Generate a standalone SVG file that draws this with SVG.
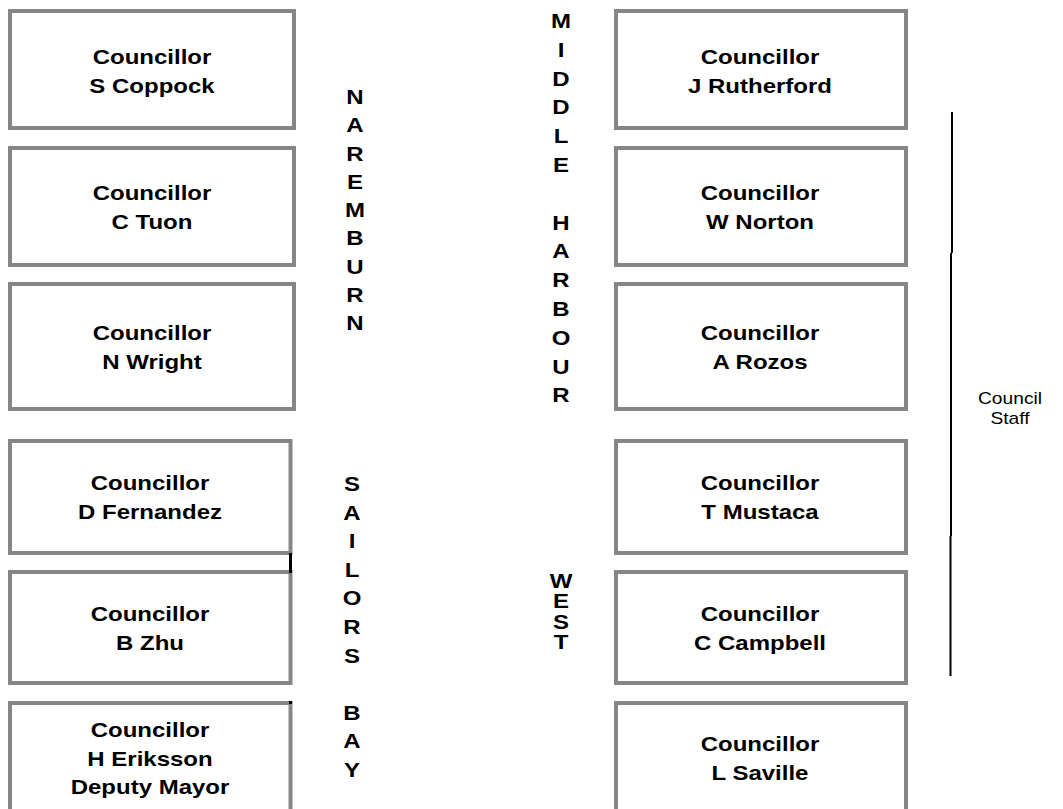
<svg xmlns="http://www.w3.org/2000/svg" width="1063" height="809" viewBox="0 0 1063 809">
<style>
.box{fill:#fff;stroke:#868686;stroke-width:4}
.t{font-family:"Liberation Sans",Arial,Helvetica,sans-serif;font-weight:bold;font-size:20px;text-anchor:middle;fill:#000}
.s{font-family:"Liberation Sans",Arial,Helvetica,sans-serif;font-size:16px;text-anchor:middle;fill:#000}
.bar{stroke:#000;stroke-width:2;fill:none}
</style>
<rect width="1063" height="809" fill="#fff"/>
<g id="n-coppock"><rect class="box" x="10" y="11" width="284" height="117"/><text class="t" transform="matrix(1.2 0 0 1 152 0)"><tspan x="0" y="64">Councillor</tspan><tspan x="0" y="93">S Coppock</tspan></text></g>
<g id="n-tuon"><rect class="box" x="10" y="148" width="284" height="117"/><text class="t" transform="matrix(1.2 0 0 1 152 0)"><tspan x="0" y="200">Councillor</tspan><tspan x="0" y="229">C Tuon</tspan></text></g>
<g id="n-wright"><rect class="box" x="10" y="284" width="284" height="125"/><text class="t" transform="matrix(1.2 0 0 1 152 0)"><tspan x="0" y="340">Councillor</tspan><tspan x="0" y="369">N Wright</tspan></text></g>
<g id="n-fernandez"><rect class="box" x="10" y="441" width="280.5" height="112"/><text class="t" transform="matrix(1.2 0 0 1 150 0)"><tspan x="0" y="490">Councillor</tspan><tspan x="0" y="519">D Fernandez</tspan></text></g>
<g id="n-zhu"><rect class="box" x="10" y="572" width="280.5" height="111"/><text class="t" transform="matrix(1.2 0 0 1 150 0)"><tspan x="0" y="621">Councillor</tspan><tspan x="0" y="650">B Zhu</tspan></text></g>
<g id="n-eriksson"><rect class="box" x="10" y="703" width="280.5" height="120"/><text class="t" transform="matrix(1.2 0 0 1 150 0)"><tspan x="0" y="737">Councillor</tspan><tspan x="0" y="766">H Eriksson</tspan><tspan x="0" y="794.5">Deputy Mayor</tspan></text></g>
<g id="n-rutherford"><rect class="box" x="616" y="11" width="290" height="117"/><text class="t" transform="matrix(1.2 0 0 1 760 0)"><tspan x="0" y="64">Councillor</tspan><tspan x="0" y="93">J Rutherford</tspan></text></g>
<g id="n-norton"><rect class="box" x="616" y="148" width="290" height="117"/><text class="t" transform="matrix(1.2 0 0 1 760 0)"><tspan x="0" y="200">Councillor</tspan><tspan x="0" y="229">W Norton</tspan></text></g>
<g id="n-rozos"><rect class="box" x="616" y="284" width="290" height="125"/><text class="t" transform="matrix(1.2 0 0 1 760 0)"><tspan x="0" y="340">Councillor</tspan><tspan x="0" y="369">A Rozos</tspan></text></g>
<g id="n-mustaca"><rect class="box" x="616" y="441" width="290" height="112"/><text class="t" transform="matrix(1.2 0 0 1 760 0)"><tspan x="0" y="490">Councillor</tspan><tspan x="0" y="519">T Mustaca</tspan></text></g>
<g id="n-campbell"><rect class="box" x="616" y="572" width="290" height="111"/><text class="t" transform="matrix(1.2 0 0 1 760 0)"><tspan x="0" y="621">Councillor</tspan><tspan x="0" y="650">C Campbell</tspan></text></g>
<g id="n-saville"><rect class="box" x="616" y="703" width="290" height="120"/><text class="t" transform="matrix(1.2 0 0 1 760 0)"><tspan x="0" y="751.5">Councillor</tspan><tspan x="0" y="780">L Saville</tspan></text></g>
<g id="ward-labels">
<text class="t" transform="matrix(1.2 0 0 1 355 0)"><tspan x="0" y="104">N</tspan><tspan x="0" dy="28.3">A</tspan><tspan x="0" dy="28.3">R</tspan><tspan x="0" dy="28.3">E</tspan><tspan x="0" dy="28.3">M</tspan><tspan x="0" dy="28.3">B</tspan><tspan x="0" dy="28.3">U</tspan><tspan x="0" dy="28.3">R</tspan><tspan x="0" dy="28.3">N</tspan></text>
<text class="t" transform="matrix(1.2 0 0 1 561 0)"><tspan x="0" y="28">M</tspan><tspan x="0" dy="28.8">I</tspan><tspan x="0" dy="28.8">D</tspan><tspan x="0" dy="28.8">D</tspan><tspan x="0" dy="28.8">L</tspan><tspan x="0" dy="28.8">E</tspan><tspan x="0" dy="57.6">H</tspan><tspan x="0" dy="28.8">A</tspan><tspan x="0" dy="28.8">R</tspan><tspan x="0" dy="28.8">B</tspan><tspan x="0" dy="28.8">O</tspan><tspan x="0" dy="28.8">U</tspan><tspan x="0" dy="28.8">R</tspan></text>
<text class="t" transform="matrix(1.2 0 0 1 352 0)"><tspan x="0" y="491">S</tspan><tspan x="0" dy="28.6">A</tspan><tspan x="0" dy="28.6">I</tspan><tspan x="0" dy="28.6">L</tspan><tspan x="0" dy="28.6">O</tspan><tspan x="0" dy="28.6">R</tspan><tspan x="0" dy="28.6">S</tspan><tspan x="0" dy="57.2">B</tspan><tspan x="0" dy="28.6">A</tspan><tspan x="0" dy="28.6">Y</tspan></text>
<text class="t" transform="matrix(1.2 0 0 1 561 0)"><tspan x="0" y="588">W</tspan><tspan x="0" dy="20.3">E</tspan><tspan x="0" dy="20.3">S</tspan><tspan x="0" dy="20.3">T</tspan></text>
<text class="s" transform="matrix(1.2 0 0 1 1010 0)"><tspan x="0" y="404">Council</tspan><tspan x="0" y="424">Staff</tspan></text>
</g>
<g id="connectors">
<line class="bar" x1="952" y1="112" x2="952" y2="253"/>
<line class="bar" x1="951" y1="253" x2="951" y2="536"/>
<line class="bar" x1="950.5" y1="536" x2="950.5" y2="676"/>
<line x1="290.5" y1="553" x2="290.5" y2="573" stroke="#000" stroke-width="3"/>
<rect x="289" y="701" width="3" height="3" fill="#000"/>
</g>
</svg>
